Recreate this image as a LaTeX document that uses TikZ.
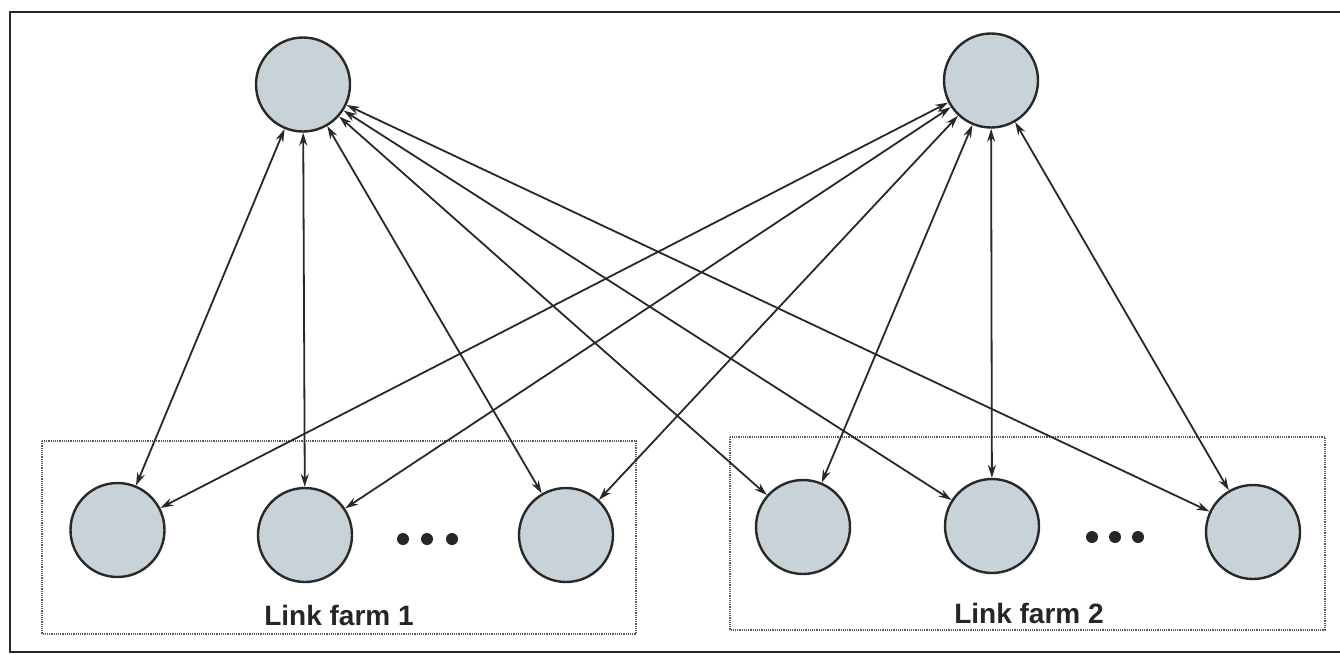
\documentclass[tikz,border=0pt]{standalone}
\usepackage{fontspec}
\setmainfont{Liberation Sans}
\usetikzlibrary{arrows.meta}
\definecolor{nodefill}{RGB}{200,211,217}
\definecolor{inkline}{RGB}{40,40,40}
\begin{document}
\begin{tikzpicture}[x=1pt,y=-1pt,
  page/.style={draw=inkline,line width=1.8pt},
  hub/.style={circle,draw=inkline,line width=2.4pt,fill=nodefill,minimum size=94pt,inner sep=0pt},
  farmbox/.style={draw=gray!70!black,line width=1.4pt,dash pattern=on 1.2pt off 1pt},
  link/.style={draw=inkline,line width=1.8pt,{Stealth[length=13pt,width=8pt]}-{Stealth[length=13pt,width=8pt]}},
  ellipsisdot/.style={fill=black!85},
  farmlabel/.style={font=\fontsize{28}{32}\selectfont\bfseries,text=black!85,anchor=base}
]
\useasboundingbox (0,0) rectangle (1340,654);
% page frame (right side runs off the edge)
\draw[page] (1350,12) -- (10,12) -- (10,652) -- (1350,652);

% link farm boxes
\draw[farmbox] (42,441) rectangle (636,634);
\draw[farmbox] (730,437) rectangle (1325,630);

% upper nodes
\node[hub] (t1) at (303,84.5) {};
\node[hub] (t2) at (991,80.5) {};

% link farm 1
\node[hub] (a1) at (117.5,530) {};
\node[hub] (a2) at (305,535) {};
\node[hub] (a3) at (566,535) {};
% link farm 2
\node[hub] (b1) at (803,527) {};
\node[hub] (b2) at (992,526) {};
\node[hub] (b3) at (1253,532) {};

% ellipses
\foreach \x in {403,427,452} \fill[ellipsisdot] (\x,539) circle (6);
\foreach \x in {1092,1115,1138} \fill[ellipsisdot] (\x,537) circle (6);

% labels
\node[farmlabel] (lf1) at (339,625) {Link farm 1};
\node[farmlabel] (lf2) at (1029,623) {Link farm 2};

% bidirectional links
\foreach \t in {t1,t2}
  \foreach \b in {a1,a2,a3,b1,b2,b3}
    \draw[link] (\t) -- (\b);
\end{tikzpicture}
\end{document}
